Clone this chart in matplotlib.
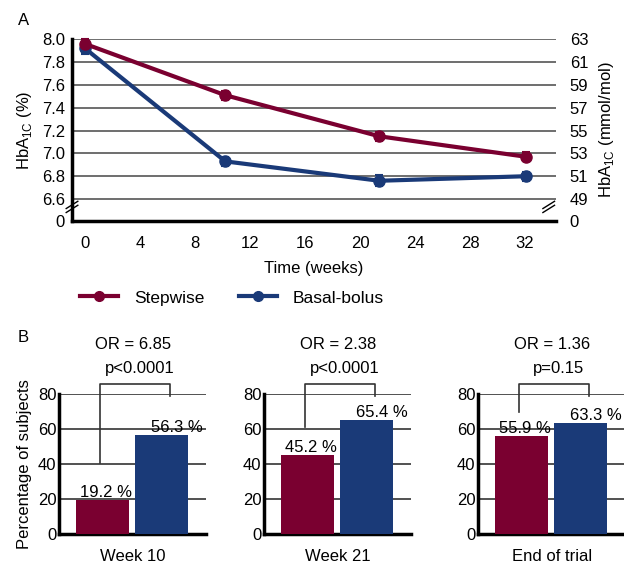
import numpy as np
import matplotlib
matplotlib.use("Agg")
import matplotlib.pyplot as plt
from matplotlib.lines import Line2D

plt.rcParams['font.family'] = ['Liberation Sans', 'DejaVu Sans']
plt.rcParams['mathtext.fontset'] = 'custom'
plt.rcParams['mathtext.rm'] = 'Liberation Sans'

RED = '#7a0030'
BLUE = '#1a3a78'
GRID = '#555555'
FS = 12

# panel A data
weeks_step = [0, 10.2, 21.4, 32.1]
hba_step = [7.96, 7.51, 7.15, 6.97]
err_step = [0.04, 0.04, 0.04, 0.04]
weeks_bb = [0, 10.2, 21.4, 32.1]
hba_bb = [7.92, 6.93, 6.76, 6.80]
err_bb = [0.05, 0.04, 0.05, 0.04]

pct_ticks = [6.6, 6.8, 7.0, 7.2, 7.4, 7.6, 7.8, 8.0]
mmol_labels = ['49', '51', '53', '55', '57', '59', '61', '63']
x_ticks = [0, 4, 8, 12, 16, 20, 24, 28, 32]
y_floor = 6.41  # where the broken axis "0" sits

# panel B data
groups = ['Week 10', 'Week 21', 'End of trial']
pct_step = [19.2, 45.2, 55.9]
pct_bb = [56.3, 65.4, 63.3]
odds = ['OR = 6.85', 'OR = 2.38', 'OR = 1.36']
pvals = ['p<0.0001', 'p<0.0001', 'p=0.15']
bracket_low = [40.5, 61, 69.5]

fig = plt.figure(figsize=(6.24, 5.65), dpi=100)

# ---- panel A ----
ax = fig.add_axes([0.1154, 0.6094, 0.7756, 0.321])
ax.set_xlim(-0.95, 34.25)
ax.set_ylim(y_floor, 8.0)
for t in pct_ticks:
    ax.axhline(t, color=GRID, lw=1.2, zorder=1)
ax.errorbar(weeks_step, hba_step, yerr=err_step, color=RED, lw=3, marker='o', ms=8,
            capsize=3, elinewidth=1.5, capthick=1.5, zorder=4, clip_on=False)
ax.errorbar(weeks_bb, hba_bb, yerr=err_bb, color=BLUE, lw=3, marker='o', ms=8,
            capsize=3, elinewidth=1.5, capthick=1.5, zorder=3, clip_on=False)
ax.set_xticks(x_ticks)
ax.set_yticks([y_floor] + pct_ticks)
ax.set_yticklabels(['0'] + ['%.1f' % t for t in pct_ticks])
ax.tick_params(length=0, labelsize=FS, pad=5)
ax.tick_params(axis='x', pad=11)
for s in ['top', 'right']:
    ax.spines[s].set_visible(False)
ax.spines['left'].set_linewidth(2.5)
ax.spines['bottom'].set_linewidth(2.5)
ax.set_xlabel('Time (weeks)', fontsize=FS, labelpad=7)
ax.set_ylabel(r'HbA$_{\mathregular{1C}}$ (%)', fontsize=FS, labelpad=6)

ax2 = ax.twinx()
ax2.set_ylim(ax.get_ylim())
ax2.set_yticks([y_floor] + pct_ticks)
ax2.set_yticklabels(['0'] + mmol_labels)
ax2.tick_params(length=0, labelsize=FS, pad=10)
for s in ax2.spines.values():
    s.set_visible(False)
ax2.set_ylabel(r'HbA$_{\mathregular{1C}}$ (mmol/mol)', fontsize=FS, labelpad=6)

# axis break marks
for xb in (0.0, 0.985):
    for dy in (0.0, 0.022):
        ax.plot([xb - 0.012, xb + 0.012], [0.045 + dy, 0.085 + dy], transform=ax.transAxes,
                color='k', lw=1, clip_on=False, zorder=6)

fig.text(0.029, 0.9646, 'A', fontsize=FS, va='center')
fig.text(0.029, 0.4035, 'B', fontsize=FS, va='center')

handles = [Line2D([], [], color=RED, lw=3, marker='o', ms=7),
           Line2D([], [], color=BLUE, lw=3, marker='o', ms=7)]
fig.legend(handles, ['Stepwise', 'Basal-bolus'], loc='center left',
           bbox_to_anchor=(0.128, 0.4726), ncol=2, frameon=False, fontsize=12.5,
           handlelength=2.2, handletextpad=0.9, columnspacing=2.0, borderaxespad=0, borderpad=0)

# ---- panel B ----
lefts = [0.095, 0.4236, 0.7665]
for i, left in enumerate(lefts):
    bx = fig.add_axes([left, 0.0549, 0.235, 0.2478])
    bx.set_xlim(-0.75, 1.77)
    bx.set_ylim(0, 80)
    for t in [20, 40, 60, 80]:
        bx.axhline(t, color='#333333', lw=1.2, zorder=1)
    bx.bar([0], [pct_step[i]], width=0.91, color=RED, zorder=3)
    bx.bar([1], [pct_bb[i]], width=0.91, color=BLUE, zorder=3)
    bx.annotate('%.1f %%' % pct_step[i], (0, pct_step[i]), xytext=(2, 0),
                textcoords='offset points', ha='center', va='bottom', fontsize=FS, zorder=4)
    bx.annotate('%.1f %%' % pct_bb[i], (1, pct_bb[i]), xytext=(11, 0),
                textcoords='offset points', ha='center', va='bottom', fontsize=FS, zorder=4)
    bx.plot([-0.05, -0.05, 1.16, 1.16], [bracket_low[i], 85.5, 85.5, 79],
            color='#333333', lw=1.2, clip_on=False, zorder=5)
    bx.text(0.55, 1.18, pvals[i], transform=bx.transAxes, ha='center', va='center', fontsize=FS)
    bx.text(0.5, 1.35, odds[i], transform=bx.transAxes, ha='center', va='center', fontsize=FS)
    bx.set_yticks([0, 20, 40, 60, 80])
    bx.set_xticks([])
    bx.set_xlabel(groups[i], fontsize=FS, labelpad=11)
    bx.tick_params(length=0, labelsize=FS, pad=2)
    for s in ['top', 'right']:
        bx.spines[s].set_visible(False)
    bx.spines['left'].set_linewidth(2.5)
    bx.spines['bottom'].set_linewidth(2.5)
    if i == 0:
        bx.set_ylabel('Percentage of subjects', fontsize=FS, labelpad=4)

fig.savefig('out.png', dpi=100)
